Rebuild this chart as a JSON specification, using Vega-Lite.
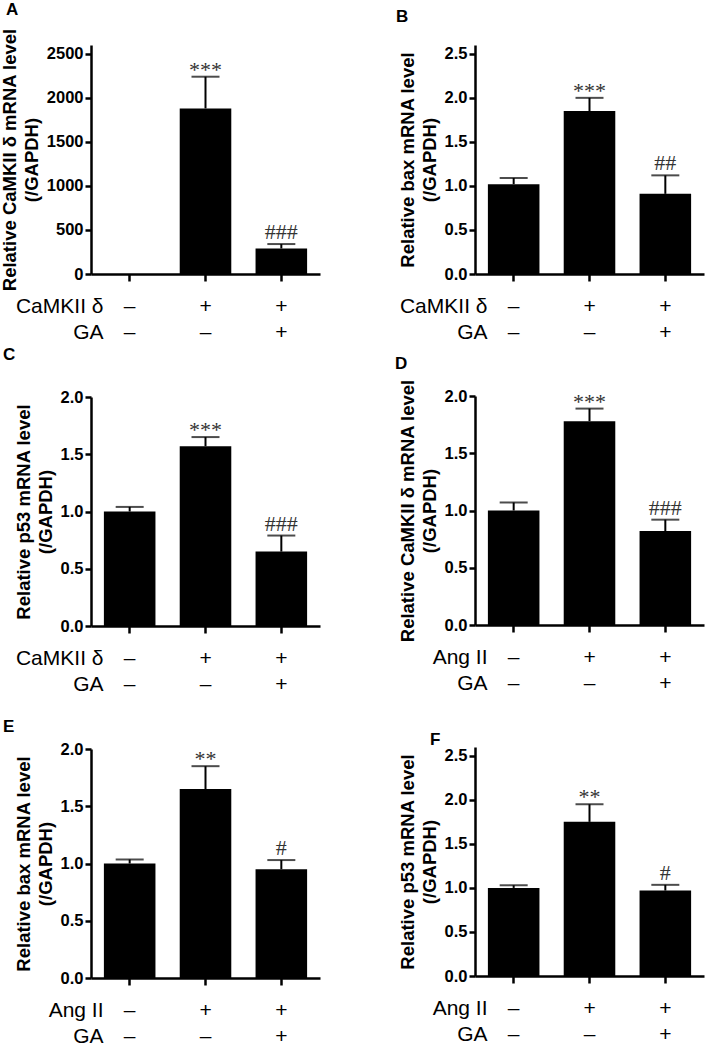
{
  "$schema": "https://vega.github.io/schema/vega-lite/v6.json",
  "padding": {"left": 0, "top": 0, "right": 5, "bottom": 5},
  "background": "white",
  "data": {"values": [
    {"panel": "A", "group": "g1", "mean": 1, "upper": 1, "sig": ""},
    {"panel": "A", "group": "g2", "mean": 1880, "upper": 2240, "sig": "***"},
    {"panel": "A", "group": "g3", "mean": 290, "upper": 340, "sig": "###"},
    {"panel": "B", "group": "g1", "mean": 1.02, "upper": 1.09, "sig": ""},
    {"panel": "B", "group": "g2", "mean": 1.85, "upper": 2.0, "sig": "***"},
    {"panel": "B", "group": "g3", "mean": 0.91, "upper": 1.12, "sig": "##"},
    {"panel": "C", "group": "g1", "mean": 1.0, "upper": 1.04, "sig": ""},
    {"panel": "C", "group": "g2", "mean": 1.57, "upper": 1.65, "sig": "***"},
    {"panel": "C", "group": "g3", "mean": 0.65, "upper": 0.79, "sig": "###"},
    {"panel": "D", "group": "g1", "mean": 1.0, "upper": 1.07, "sig": ""},
    {"panel": "D", "group": "g2", "mean": 1.78, "upper": 1.89, "sig": "***"},
    {"panel": "D", "group": "g3", "mean": 0.82, "upper": 0.92, "sig": "###"},
    {"panel": "E", "group": "g1", "mean": 1.0, "upper": 1.035, "sig": ""},
    {"panel": "E", "group": "g2", "mean": 1.65, "upper": 1.85, "sig": "**"},
    {"panel": "E", "group": "g3", "mean": 0.95, "upper": 1.03, "sig": "#"},
    {"panel": "F", "group": "g1", "mean": 1.0, "upper": 1.03, "sig": ""},
    {"panel": "F", "group": "g2", "mean": 1.75, "upper": 1.95, "sig": "**"},
    {"panel": "F", "group": "g3", "mean": 0.97, "upper": 1.035, "sig": "#"}
  ]},
  "spacing": 75,
  "hconcat": [
    {
      "bounds": "flush",
      "spacing": 123,
      "vconcat": [
        {
          "title": {"text": "A", "dx": -85, "offset": 9},
          "width": 229, "height": 229,
          "transform": [{"filter": "datum.panel === 'A'"}],
          "encoding": {"x": {"field": "group", "type": "nominal", "sort": ["g1", "g2", "g3"], "scale": {"paddingInner": 0.32, "paddingOuter": 0.17}, "axis": {"title": ["CaMKII δ", "GA"], "labelExpr": "datum.value === 'g1' ? ['–','–'] : datum.value === 'g2' ? ['+','–'] : ['+','+']"}}},
          "layer": [
            {"mark": {"type": "bar", "color": "black"}, "encoding": {"y": {"field": "mean", "type": "quantitative", "scale": {"domain": [0, 2500]}, "axis": {"values": [0, 500, 1000, 1500, 2000, 2500], "format": "d", "title": ["Relative CaMKII δ mRNA level", "(/GAPDH)"]}}}},
            {"transform": [{"filter": "datum.upper > datum.mean"}], "mark": {"type": "rule", "strokeWidth": 2, "color": "black"}, "encoding": {"y": {"field": "mean", "type": "quantitative"}, "y2": {"field": "upper"}}},
            {"transform": [{"filter": "datum.upper > datum.mean"}], "mark": {"type": "tick", "thickness": 2, "size": 28, "color": "black"}, "encoding": {"y": {"field": "upper", "type": "quantitative"}}},
            {"transform": [{"filter": "indexof(datum.sig, '*') >= 0"}], "mark": {"type": "text", "baseline": "alphabetic", "dy": 0, "font": "Liberation Serif", "fontSize": 22, "color": "#333"}, "encoding": {"y": {"field": "upper", "type": "quantitative"}, "text": {"field": "sig"}}},
            {"transform": [{"filter": "indexof(datum.sig, '#') >= 0"}], "mark": {"type": "text", "baseline": "alphabetic", "dy": -5, "font": "Liberation Serif", "fontSize": 22, "color": "#333"}, "encoding": {"y": {"field": "upper", "type": "quantitative"}, "text": {"field": "sig"}}}
          ]
        },
        {
          "title": {"text": "C", "dx": -88, "offset": 25},
          "width": 229, "height": 229,
          "transform": [{"filter": "datum.panel === 'C'"}],
          "encoding": {"x": {"field": "group", "type": "nominal", "sort": ["g1", "g2", "g3"], "scale": {"paddingInner": 0.32, "paddingOuter": 0.17}, "axis": {"title": ["CaMKII δ", "GA"], "labelExpr": "datum.value === 'g1' ? ['–','–'] : datum.value === 'g2' ? ['+','–'] : ['+','+']"}}},
          "layer": [
            {"mark": {"type": "bar", "color": "black"}, "encoding": {"y": {"field": "mean", "type": "quantitative", "scale": {"domain": [0, 2]}, "axis": {"values": [0, 0.5, 1, 1.5, 2], "format": ".1f", "title": ["Relative p53 mRNA level", "(/GAPDH)"]}}}},
            {"transform": [{"filter": "datum.upper > datum.mean"}], "mark": {"type": "rule", "strokeWidth": 2, "color": "black"}, "encoding": {"y": {"field": "mean", "type": "quantitative"}, "y2": {"field": "upper"}}},
            {"transform": [{"filter": "datum.upper > datum.mean"}], "mark": {"type": "tick", "thickness": 2, "size": 28, "color": "black"}, "encoding": {"y": {"field": "upper", "type": "quantitative"}}},
            {"transform": [{"filter": "indexof(datum.sig, '*') >= 0"}], "mark": {"type": "text", "baseline": "alphabetic", "dy": 0, "font": "Liberation Serif", "fontSize": 22, "color": "#333"}, "encoding": {"y": {"field": "upper", "type": "quantitative"}, "text": {"field": "sig"}}},
            {"transform": [{"filter": "indexof(datum.sig, '#') >= 0"}], "mark": {"type": "text", "baseline": "alphabetic", "dy": -5, "font": "Liberation Serif", "fontSize": 22, "color": "#333"}, "encoding": {"y": {"field": "upper", "type": "quantitative"}, "text": {"field": "sig"}}}
          ]
        },
        {
          "title": {"text": "E", "dx": -88, "offset": 5},
          "width": 229, "height": 229,
          "transform": [{"filter": "datum.panel === 'E'"}],
          "encoding": {"x": {"field": "group", "type": "nominal", "sort": ["g1", "g2", "g3"], "scale": {"paddingInner": 0.32, "paddingOuter": 0.17}, "axis": {"title": ["Ang II", "GA"], "labelExpr": "datum.value === 'g1' ? ['–','–'] : datum.value === 'g2' ? ['+','–'] : ['+','+']"}}},
          "layer": [
            {"mark": {"type": "bar", "color": "black"}, "encoding": {"y": {"field": "mean", "type": "quantitative", "scale": {"domain": [0, 2]}, "axis": {"values": [0, 0.5, 1, 1.5, 2], "format": ".1f", "title": ["Relative bax mRNA level", "(/GAPDH)"]}}}},
            {"transform": [{"filter": "datum.upper > datum.mean"}], "mark": {"type": "rule", "strokeWidth": 2, "color": "black"}, "encoding": {"y": {"field": "mean", "type": "quantitative"}, "y2": {"field": "upper"}}},
            {"transform": [{"filter": "datum.upper > datum.mean"}], "mark": {"type": "tick", "thickness": 2, "size": 28, "color": "black"}, "encoding": {"y": {"field": "upper", "type": "quantitative"}}},
            {"transform": [{"filter": "indexof(datum.sig, '*') >= 0"}], "mark": {"type": "text", "baseline": "alphabetic", "dy": 0, "font": "Liberation Serif", "fontSize": 22, "color": "#333"}, "encoding": {"y": {"field": "upper", "type": "quantitative"}, "text": {"field": "sig"}}},
            {"transform": [{"filter": "indexof(datum.sig, '#') >= 0"}], "mark": {"type": "text", "baseline": "alphabetic", "dy": -5, "font": "Liberation Serif", "fontSize": 22, "color": "#333"}, "encoding": {"y": {"field": "upper", "type": "quantitative"}, "text": {"field": "sig"}}}
          ]
        }
      ]
    },
    {
      "bounds": "flush",
      "spacing": 122,
      "vconcat": [
        {
          "title": {"text": "B", "dx": -79, "offset": 19},
          "width": 229, "height": 229,
          "transform": [{"filter": "datum.panel === 'B'"}],
          "encoding": {"x": {"field": "group", "type": "nominal", "sort": ["g1", "g2", "g3"], "scale": {"paddingInner": 0.32, "paddingOuter": 0.17}, "axis": {"title": ["CaMKII δ", "GA"], "labelExpr": "datum.value === 'g1' ? ['–','–'] : datum.value === 'g2' ? ['+','–'] : ['+','+']"}}},
          "layer": [
            {"mark": {"type": "bar", "color": "black"}, "encoding": {"y": {"field": "mean", "type": "quantitative", "scale": {"domain": [0, 2.5]}, "axis": {"values": [0, 0.5, 1, 1.5, 2, 2.5], "format": ".1f", "title": ["Relative bax mRNA level", "(/GAPDH)"]}}}},
            {"transform": [{"filter": "datum.upper > datum.mean"}], "mark": {"type": "rule", "strokeWidth": 2, "color": "black"}, "encoding": {"y": {"field": "mean", "type": "quantitative"}, "y2": {"field": "upper"}}},
            {"transform": [{"filter": "datum.upper > datum.mean"}], "mark": {"type": "tick", "thickness": 2, "size": 28, "color": "black"}, "encoding": {"y": {"field": "upper", "type": "quantitative"}}},
            {"transform": [{"filter": "indexof(datum.sig, '*') >= 0"}], "mark": {"type": "text", "baseline": "alphabetic", "dy": 0, "font": "Liberation Serif", "fontSize": 22, "color": "#333"}, "encoding": {"y": {"field": "upper", "type": "quantitative"}, "text": {"field": "sig"}}},
            {"transform": [{"filter": "indexof(datum.sig, '#') >= 0"}], "mark": {"type": "text", "baseline": "alphabetic", "dy": -5, "font": "Liberation Serif", "fontSize": 22, "color": "#333"}, "encoding": {"y": {"field": "upper", "type": "quantitative"}, "text": {"field": "sig"}}}
          ]
        },
        {
          "title": {"text": "D", "dx": -80, "offset": 6},
          "width": 229, "height": 229,
          "transform": [{"filter": "datum.panel === 'D'"}],
          "encoding": {"x": {"field": "group", "type": "nominal", "sort": ["g1", "g2", "g3"], "scale": {"paddingInner": 0.32, "paddingOuter": 0.17}, "axis": {"title": ["Ang II", "GA"], "labelExpr": "datum.value === 'g1' ? ['–','–'] : datum.value === 'g2' ? ['+','–'] : ['+','+']"}}},
          "layer": [
            {"mark": {"type": "bar", "color": "black"}, "encoding": {"y": {"field": "mean", "type": "quantitative", "scale": {"domain": [0, 2]}, "axis": {"values": [0, 0.5, 1, 1.5, 2], "format": ".1f", "title": ["Relative CaMKII δ mRNA level", "(/GAPDH)"]}}}},
            {"transform": [{"filter": "datum.upper > datum.mean"}], "mark": {"type": "rule", "strokeWidth": 2, "color": "black"}, "encoding": {"y": {"field": "mean", "type": "quantitative"}, "y2": {"field": "upper"}}},
            {"transform": [{"filter": "datum.upper > datum.mean"}], "mark": {"type": "tick", "thickness": 2, "size": 28, "color": "black"}, "encoding": {"y": {"field": "upper", "type": "quantitative"}}},
            {"transform": [{"filter": "indexof(datum.sig, '*') >= 0"}], "mark": {"type": "text", "baseline": "alphabetic", "dy": 0, "font": "Liberation Serif", "fontSize": 22, "color": "#333"}, "encoding": {"y": {"field": "upper", "type": "quantitative"}, "text": {"field": "sig"}}},
            {"transform": [{"filter": "indexof(datum.sig, '#') >= 0"}], "mark": {"type": "text", "baseline": "alphabetic", "dy": -5, "font": "Liberation Serif", "fontSize": 22, "color": "#333"}, "encoding": {"y": {"field": "upper", "type": "quantitative"}, "text": {"field": "sig"}}}
          ]
        },
        {
          "title": {"text": "F", "dx": -45, "offset": -2},
          "width": 229, "height": 229,
          "transform": [{"filter": "datum.panel === 'F'"}],
          "encoding": {"x": {"field": "group", "type": "nominal", "sort": ["g1", "g2", "g3"], "scale": {"paddingInner": 0.32, "paddingOuter": 0.17}, "axis": {"title": ["Ang II", "GA"], "labelExpr": "datum.value === 'g1' ? ['–','–'] : datum.value === 'g2' ? ['+','–'] : ['+','+']"}}},
          "layer": [
            {"mark": {"type": "bar", "color": "black"}, "encoding": {"y": {"field": "mean", "type": "quantitative", "scale": {"domain": [0, 2.5]}, "axis": {"values": [0, 0.5, 1, 1.5, 2, 2.5], "format": ".1f", "title": ["Relative p53 mRNA level", "(/GAPDH)"]}}}},
            {"transform": [{"filter": "datum.upper > datum.mean"}], "mark": {"type": "rule", "strokeWidth": 2, "color": "black"}, "encoding": {"y": {"field": "mean", "type": "quantitative"}, "y2": {"field": "upper"}}},
            {"transform": [{"filter": "datum.upper > datum.mean"}], "mark": {"type": "tick", "thickness": 2, "size": 28, "color": "black"}, "encoding": {"y": {"field": "upper", "type": "quantitative"}}},
            {"transform": [{"filter": "indexof(datum.sig, '*') >= 0"}], "mark": {"type": "text", "baseline": "alphabetic", "dy": 0, "font": "Liberation Serif", "fontSize": 22, "color": "#333"}, "encoding": {"y": {"field": "upper", "type": "quantitative"}, "text": {"field": "sig"}}},
            {"transform": [{"filter": "indexof(datum.sig, '#') >= 0"}], "mark": {"type": "text", "baseline": "alphabetic", "dy": -5, "font": "Liberation Serif", "fontSize": 22, "color": "#333"}, "encoding": {"y": {"field": "upper", "type": "quantitative"}, "text": {"field": "sig"}}}
          ]
        }
      ]
    }
  ],
  "config": {
    "view": {"stroke": null},
    "font": "Liberation Sans",
    "axis": {"grid": false, "domainColor": "black", "domainWidth": 2.5, "tickColor": "black", "tickWidth": 2.5, "tickSize": 6, "labelColor": "black", "titleColor": "black", "labelFont": "Liberation Sans", "titleFont": "Liberation Sans"},
    "axisY": {"labelFontSize": 16.5, "labelFontWeight": "bold", "labelPadding": 2, "titleFontSize": 18.5, "titleFontWeight": "bold", "titlePadding": 5, "titleLineHeight": 22},
    "axisX": {"labelFontSize": 21, "labelFontWeight": "normal", "labelAngle": 0, "labelLineHeight": 26, "tickSize": 7, "labelPadding": 14, "titleFontSize": 21, "titleFontWeight": "normal", "titleLineHeight": 26, "titleAlign": "right", "titleBaseline": "top", "titleX": 12, "titleY": 21},
    "title": {"anchor": "start", "frame": "group", "fontSize": 17, "fontWeight": "bold", "color": "black", "baseline": "alphabetic"}
  }
}
